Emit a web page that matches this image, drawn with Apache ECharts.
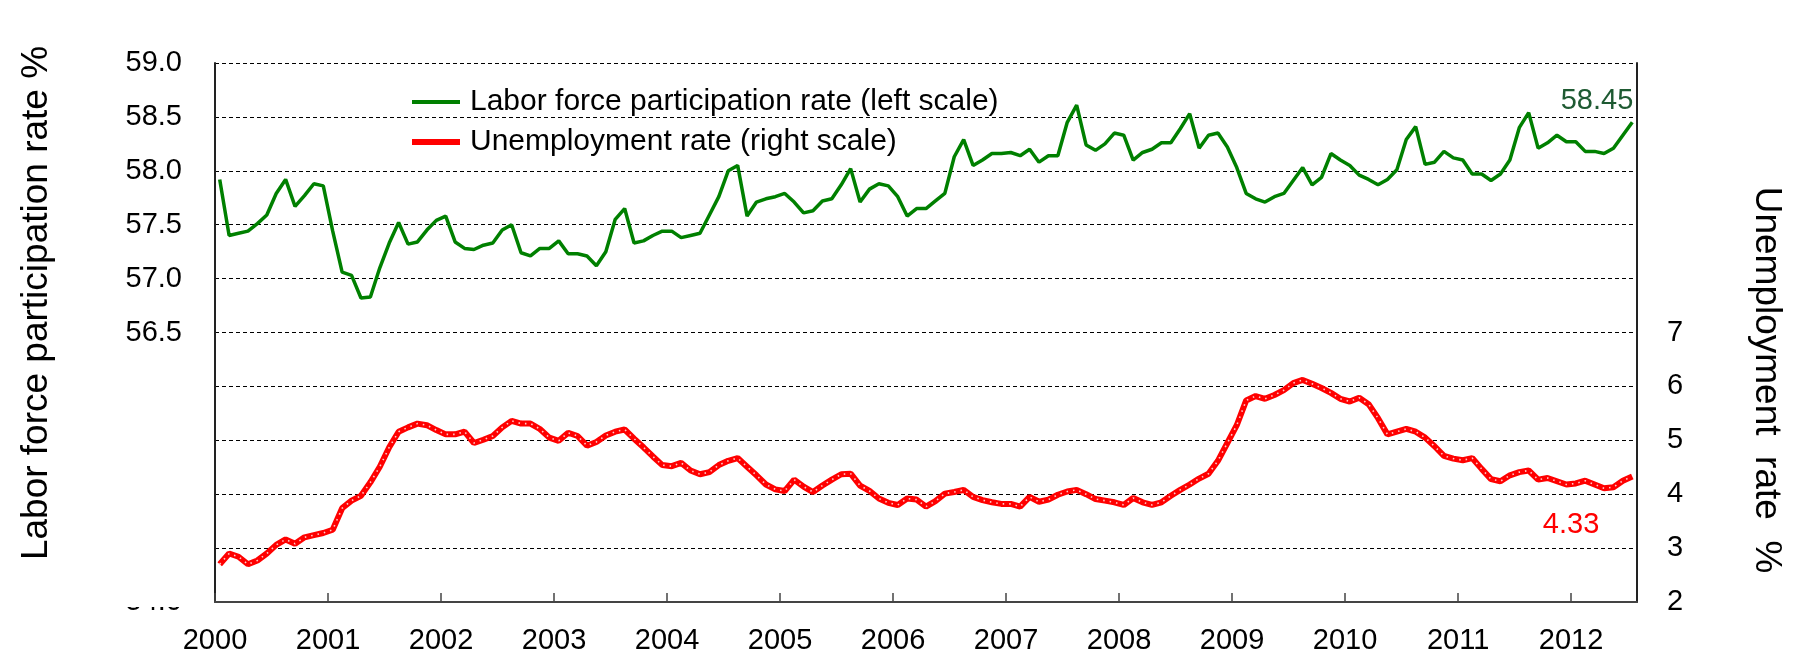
<!DOCTYPE html>
<html>
<head>
<meta charset="utf-8">
<script src="https://cdn.jsdelivr.net/npm/echarts@6/dist/echarts.min.js"></script>
<style>
  html, body { margin: 0; padding: 0; background: #fff; }
  #chart { width: 1793px; height: 658px; }
</style>
</head>
<body>
<div id="chart"></div>
<script>
// Monthly data, Jan 2000 - Jul 2012 (151 months)
const startYear = 2000;
const yearTicks = [2000, 2001, 2002, 2003, 2004, 2005, 2006, 2007, 2008, 2009, 2010, 2011, 2012];

const lfpr = [
  57.92, 57.40, 57.42, 57.44, 57.51, 57.59, 57.79, 57.92, 57.67, 57.77, 57.88, 57.86,
  57.44, 57.06, 57.03, 56.82, 56.83, 57.10, 57.33, 57.52, 57.32, 57.34, 57.45, 57.54,
  57.58, 57.34, 57.28, 57.27, 57.31, 57.33, 57.45, 57.50, 57.24, 57.21, 57.28, 57.28,
  57.35, 57.23, 57.23, 57.21, 57.12, 57.25, 57.55, 57.65, 57.33, 57.35, 57.40, 57.44,
  57.44, 57.38, 57.40, 57.42, 57.59, 57.76, 58.00, 58.05, 57.58, 57.71, 57.74, 57.76,
  57.79, 57.71, 57.61, 57.63, 57.72, 57.74, 57.87, 58.02, 57.71, 57.83, 57.88, 57.86,
  57.76, 57.58, 57.65, 57.65, 57.72, 57.79, 58.13, 58.29, 58.05, 58.10, 58.16, 58.16,
  58.17, 58.14, 58.20, 58.08, 58.14, 58.14, 58.45, 58.61, 58.24, 58.19, 58.25, 58.35,
  58.33, 58.10, 58.17, 58.20, 58.26, 58.26, 58.39, 58.53, 58.21, 58.33, 58.35, 58.22,
  58.03, 57.79, 57.74, 57.71, 57.76, 57.79, 57.91, 58.03, 57.87, 57.94, 58.16, 58.10,
  58.05, 57.96, 57.92, 57.87, 57.92, 58.01, 58.29, 58.41, 58.06, 58.08, 58.18, 58.12,
  58.10, 57.97, 57.97, 57.91, 57.97, 58.10, 58.40, 58.54, 58.21, 58.26, 58.33, 58.27,
  58.27, 58.18, 58.18, 58.16, 58.21, 58.33, 58.45
];

const unemp = [
  2.70, 2.90, 2.84, 2.70, 2.77, 2.90, 3.06, 3.16, 3.08, 3.20, 3.24, 3.28,
  3.34, 3.74, 3.88, 3.97, 4.22, 4.51, 4.87, 5.16, 5.24, 5.31, 5.28, 5.19,
  5.11, 5.11, 5.16, 4.95, 5.01, 5.08, 5.24, 5.36, 5.31, 5.31, 5.21, 5.05,
  4.99, 5.14, 5.08, 4.90, 4.97, 5.09, 5.16, 5.20, 5.03, 4.87, 4.70, 4.54,
  4.52, 4.58, 4.44, 4.37, 4.41, 4.54, 4.62, 4.67, 4.51, 4.35, 4.18, 4.09,
  4.06, 4.27, 4.14, 4.04, 4.16, 4.27, 4.37, 4.38, 4.16, 4.06, 3.92, 3.84,
  3.80, 3.92, 3.90, 3.77, 3.87, 4.01, 4.04, 4.08, 3.95, 3.89, 3.85, 3.82,
  3.82, 3.77, 3.95, 3.86, 3.90, 3.99, 4.05, 4.08, 4.00, 3.91, 3.88, 3.85,
  3.80, 3.93, 3.85, 3.80, 3.85, 3.97, 4.08, 4.18, 4.29, 4.38, 4.62, 4.95,
  5.28, 5.74, 5.82, 5.77, 5.84, 5.93, 6.06, 6.12, 6.05, 5.97, 5.88, 5.77,
  5.72, 5.79, 5.67, 5.41, 5.11, 5.16, 5.21, 5.16, 5.05, 4.89, 4.71, 4.66,
  4.63, 4.67, 4.47, 4.28, 4.24, 4.35, 4.41, 4.44, 4.27, 4.30, 4.24, 4.18,
  4.20, 4.25, 4.18, 4.11, 4.13, 4.25, 4.33
];

const leftTickLabels = ['54.0', '56.5', '57.0', '57.5', '58.0', '58.5', '59.0'];
const rightTickLabels = ['2', '3', '4', '5', '6', '7'];
const seriesNames = ['Labor force participation rate (left scale)', 'Unemployment rate (right scale)'];
const lastLfprLabel = '58.45';
const lastUnempLabel = '4.33';

const nMonths = lfpr.length;
const tickVals = yearTicks.map(y => (y - startYear) * 12);
const lfprData = lfpr.map((v, i) => [i + 0.5, v]);
const unempData = unemp.map((v, i) => [i + 0.5, v]);
const lastX = nMonths - 0.5;

const FONT = '"Liberation Sans", Arial, sans-serif';
const chart = echarts.init(document.getElementById('chart'), null, { renderer: 'canvas' });

chart.setOption({
  animation: false,
  backgroundColor: '#ffffff',
  textStyle: { fontFamily: FONT },
  grid: { left: 215, right: 156, top: 63, bottom: 56, containLabel: false },
  legend: {
    data: [
      { name: seriesNames[0], lineStyle: { color: '#008000', width: 4 } },
      { name: seriesNames[1], lineStyle: { color: '#ff0000', width: 6 } }
    ],
    orient: 'vertical',
    left: 409,
    top: 87,
    itemWidth: 48,
    itemHeight: 14,
    itemGap: 10,
    padding: 0,
    selectedMode: false,
    itemStyle: { opacity: 0 },
    textStyle: { fontSize: 30, color: '#000', fontFamily: FONT, lineHeight: 30, padding: [0, 0, 0, 5] }
  },
  xAxis: {
    type: 'value',
    min: 0,
    max: nMonths,
    interval: 12,
    axisLine: { show: true, onZero: false, lineStyle: { color: '#444', width: 2 } },
    axisTick: { show: true, inside: true, length: 9, customValues: tickVals, lineStyle: { color: '#444', width: 1.5 } },
    axisLabel: {
      customValues: tickVals,
      formatter: v => String(startYear + Math.round(v / 12)),
      fontSize: 29, color: '#000', margin: 24, fontFamily: FONT
    },
    splitLine: { show: false }
  },
  yAxis: [
    {
      type: 'value',
      position: 'left',
      min: 54, max: 59, interval: 0.5,
      axisLine: { show: true, lineStyle: { color: '#222', width: 2 } },
      axisTick: { show: false },
      axisLabel: {
        formatter: v => { const s = v.toFixed(1); return leftTickLabels.indexOf(s) >= 0 ? s : ''; },
        fontSize: 29, color: '#000', margin: 33, fontFamily: FONT
      },
      splitLine: { show: true, lineStyle: { color: '#000', width: 1.2, type: [4, 3] } }
    },
    {
      type: 'value',
      position: 'right',
      min: 2, max: 12, interval: 1,
      axisLine: { show: true, lineStyle: { color: '#222', width: 2 } },
      axisTick: { show: false },
      axisLabel: {
        formatter: v => { const s = String(v); return rightTickLabels.indexOf(s) >= 0 ? s : ''; },
        fontSize: 29, color: '#000', margin: 30, fontFamily: FONT
      },
      splitLine: { show: false }
    }
  ],
  series: [
    {
      name: seriesNames[0],
      type: 'line',
      yAxisIndex: 0,
      data: lfprData,
      symbol: 'none',
      color: '#008000',
      lineStyle: { color: '#008000', width: 3.5 },
      z: 4,
      markPoint: {
        symbol: 'circle', symbolSize: 1,
        itemStyle: { color: 'rgba(0,0,0,0)' },
        data: [{ coord: [lastX, lfpr[nMonths - 1]], value: lastLfprLabel }],
        label: {
          show: true, position: 'inside', align: 'right', verticalAlign: 'middle',
          offset: [1, -21], formatter: lastLfprLabel,
          fontSize: 29, color: '#1e5a32', fontFamily: FONT
        }
      }
    },
    {
      name: seriesNames[1],
      type: 'line',
      yAxisIndex: 1,
      data: unempData,
      symbol: 'none',
      color: '#ff0000',
      lineStyle: { color: '#ff0000', width: 6 },
      z: 3,
      markPoint: {
        symbol: 'circle', symbolSize: 1,
        itemStyle: { color: 'rgba(0,0,0,0)' },
        data: [{ coord: [lastX, unemp[nMonths - 1]], value: lastUnempLabel }],
        label: {
          show: true, position: 'inside', align: 'right', verticalAlign: 'middle',
          offset: [-33, 49], formatter: lastUnempLabel,
          fontSize: 29, color: '#ff0000', fontFamily: FONT
        }
      }
    },
    {
      name: 'unemp-dots',
      type: 'line',
      yAxisIndex: 1,
      data: unempData,
      symbol: 'none',
      silent: true,
      lineStyle: { color: 'rgba(255,225,225,0.9)', width: 1.6, type: [1.5, 5] },
      z: 5
    }
  ],
  graphic: [
    {
      type: 'rect',
      z: 100,
      shape: { x: 120, y: 585, width: 80, height: 22 },
      style: { fill: '#ffffff' }
    },
    {
      type: 'text',
      x: 37, y: 303,
      rotation: Math.PI / 2,
      style: {
        text: 'Labor force participation rate %',
        font: '37px ' + FONT,
        fill: '#000',
        align: 'center',
        verticalAlign: 'middle'
      }
    },
    {
      type: 'text',
      x: 1766, y: 380,
      rotation: -Math.PI / 2,
      style: {
        text: 'Unemployment  rate  %',
        font: '37px ' + FONT,
        fill: '#000',
        align: 'center',
        verticalAlign: 'middle'
      }
    }
  ]
});
</script>
</body>
</html>
